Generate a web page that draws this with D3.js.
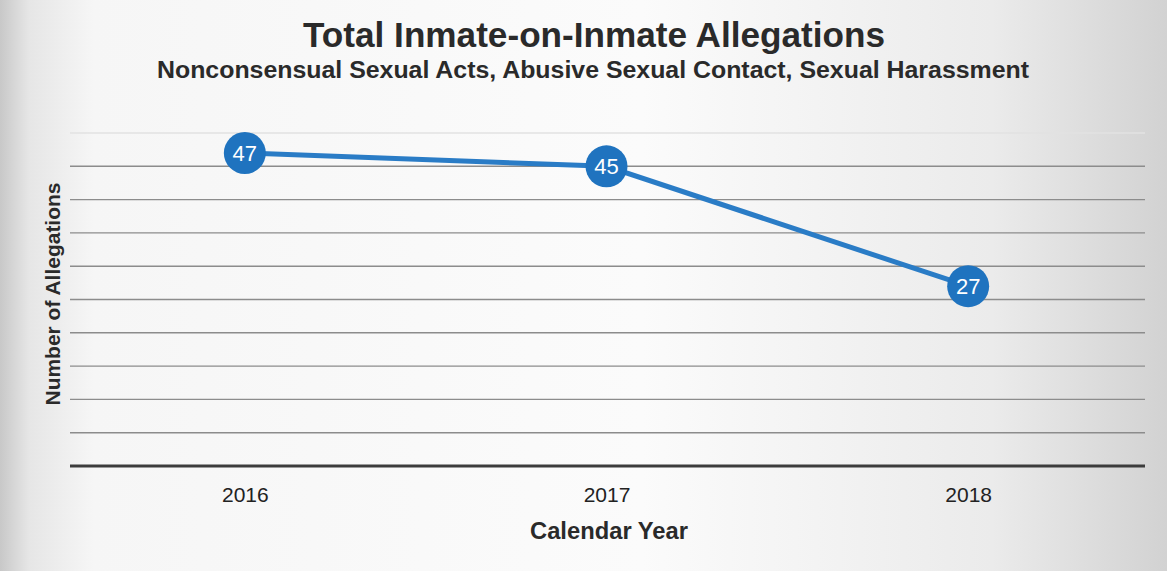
<!DOCTYPE html>
<html>
<head>
<meta charset="utf-8">
<script src="https://cdn.jsdelivr.net/npm/d3@7"></script>
<style>
  body { margin: 0; background: #fff; }
  svg { display: block; font-family: "Liberation Sans", Arial, sans-serif; }
</style>
</head>
<body>
<div id="root"></div>
<script>
const width = 1167;
const height = 571;

const years = ["2016", "2017", "2018"];
const allegations = [47, 45, 27];
const gridValues = [5, 10, 15, 20, 25, 30, 35, 40, 45, 50];

const margin = {top: 133, right: 18, bottom: 105, left: 64};

const svg = d3.select("#root").append("svg")
  .attr("width", width)
  .attr("height", height);

// scanned paper look
const defs = svg.append("defs");
const grad = defs.append("linearGradient").attr("id", "paper");
grad.append("stop").attr("offset", "0%").attr("stop-color", "#c8c8c8");
grad.append("stop").attr("offset", "2.5%").attr("stop-color", "#e6e6e6");
grad.append("stop").attr("offset", "8%").attr("stop-color", "#f6f6f6");
grad.append("stop").attr("offset", "55%").attr("stop-color", "#fbfbfb");
grad.append("stop").attr("offset", "85%").attr("stop-color", "#ebebeb");
grad.append("stop").attr("offset", "100%").attr("stop-color", "#d2d2d2");

svg.append("rect")
  .attr("width", width)
  .attr("height", height)
  .attr("fill", "url(#paper)");

const x = d3.scalePoint()
  .domain(years)
  .range([margin.left, width - margin.right])
  .padding(0.5);

const y = d3.scaleLinear()
  .domain([0, 50])
  .range([height - margin.bottom, margin.top]);

const gridX0 = 70, gridX1 = 1145;

// gridlines
svg.append("g")
  .selectAll("line")
  .data(gridValues)
  .enter()
  .append("line")
  .attr("x1", gridX0)
  .attr("x2", gridX1)
  .attr("y1", d => y(d))
  .attr("y2", d => y(d))
  .attr("stroke", d => d === 50 ? "#e2e2e2" : "#8c8c8c")
  .attr("stroke-width", 1.4);

// x axis
const xAxis = svg.append("g")
  .attr("transform", `translate(0,${y(0)})`)
  .call(d3.axisBottom(x).tickSize(0).tickPadding(21));
xAxis.select(".domain")
  .attr("d", `M${gridX0},0H${gridX1}`)
  .attr("stroke", "#3c3c3c")
  .attr("stroke-width", 3);
xAxis.selectAll("text")
  .attr("font-size", "21px")
  .attr("font-family", "Liberation Sans, Arial, sans-serif")
  .attr("fill", "#222");

// line
const line = d3.line()
  .x((d, i) => x(years[i]))
  .y(d => y(d));

svg.append("path")
  .datum(allegations)
  .attr("d", line)
  .attr("fill", "none")
  .attr("stroke", "#2a7cc6")
  .attr("stroke-width", 5);

const points = svg.append("g")
  .selectAll("g")
  .data(allegations)
  .enter()
  .append("g")
  .attr("transform", (d, i) => `translate(${x(years[i])},${y(d)})`);

points.append("circle")
  .attr("r", 21)
  .attr("fill", "#1f73bf");

points.append("text")
  .attr("text-anchor", "middle")
  .attr("dy", "0.36em")
  .attr("fill", "#fff")
  .attr("font-size", "22px")
  .text(d => d);

// titles
svg.append("text")
  .attr("x", 594)
  .attr("y", 47)
  .attr("text-anchor", "middle")
  .attr("font-size", "35px")
  .attr("font-weight", "bold")
  .attr("textLength", 582)
  .attr("lengthAdjust", "spacingAndGlyphs")
  .attr("fill", "#2a2a2a")
  .text("Total Inmate-on-Inmate Allegations");

svg.append("text")
  .attr("x", 593)
  .attr("y", 78)
  .attr("text-anchor", "middle")
  .attr("font-size", "23px")
  .attr("font-weight", "bold")
  .attr("textLength", 872)
  .attr("lengthAdjust", "spacingAndGlyphs")
  .attr("fill", "#2a2a2a")
  .text("Nonconsensual Sexual Acts, Abusive Sexual Contact, Sexual Harassment");

svg.append("text")
  .attr("transform", "translate(60,294) rotate(-90)")
  .attr("text-anchor", "middle")
  .attr("font-size", "21px")
  .attr("font-weight", "bold")
  .attr("textLength", 223)
  .attr("lengthAdjust", "spacingAndGlyphs")
  .attr("fill", "#2a2a2a")
  .text("Number of Allegations");

svg.append("text")
  .attr("x", 609)
  .attr("y", 539)
  .attr("text-anchor", "middle")
  .attr("font-size", "23px")
  .attr("font-weight", "bold")
  .attr("textLength", 158)
  .attr("lengthAdjust", "spacingAndGlyphs")
  .attr("fill", "#2a2a2a")
  .text("Calendar Year");
</script>
</body>
</html>
